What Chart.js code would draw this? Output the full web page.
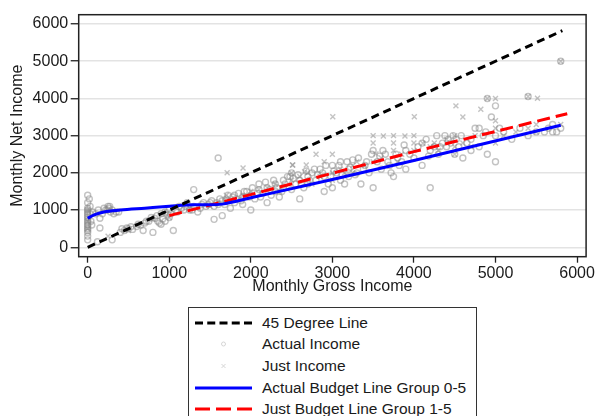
<!DOCTYPE html>
<html>
<head>
<meta charset="utf-8">
<script src="https://cdn.jsdelivr.net/npm/chart.js@4/dist/chart.umd.min.js"></script>
<style>
  html, body { margin: 0; padding: 0; background: #fff; }
  #wrap { position: relative; width: 596px; height: 416px; overflow: hidden; font-family: 'Liberation Sans', Arial, sans-serif; }
  #plot { position: absolute; left: 0; top: 0; width: 596px; height: 296px; }
  #legend { position: absolute; left: 188px; top: 307px; width: 289px; height: 130px; border: 1px solid #333; box-sizing: border-box; }
  .row { position: absolute; left: 0; height: 20px; width: 100%; }
  .row svg { position: absolute; left: 6px; top: 0; }
  .row span { position: absolute; left: 73px; top: 1px; font-size: 15.5px; line-height: 18px; color: #1a1a1a; white-space: nowrap; }
</style>
</head>
<body>
<div id="wrap">
  <div id="plot"><canvas id="c"></canvas></div>
  <div id="legend"></div>
</div>
<script>
// axis ticks
const xTicks = [0, 1000, 2000, 3000, 4000, 5000, 6000];
const yTicks = [0, 1000, 2000, 3000, 4000, 5000, 6000];

// 45 degree reference line
const degGross = [0, 5820];
const degNet = [0, 5820];

// actual budget line, group 0-5
const actLineGross = [0, 80, 200, 400, 700, 1000, 1300, 1500, 1650, 2000, 3000, 4000, 5800];
const actLineNet = [780, 870, 950, 1000, 1050, 1100, 1140, 1140, 1160, 1330, 1820, 2330, 3280];

// just budget line, group 1-5 (red dashes)
const justLineGross = [1000, 2550, 4000, 5880];
const justLineNet = [850, 1730, 2570, 3590];

// actual income observations (circles)
const actualGross = [
  0, 0, 0, 0, 0, 0, 0, 0, 0, 0, 0, 0, 0, 0, 0, 0, 0, 0,
  20, 30, 30, 40, 50,
  60, 100, 150, 150, 120, 180, 220, 250, 260, 280, 300, 320, 350,
  130, 200, 240, 270, 300, 380, 420, 480, 530, 620, 680, 720, 780,
  400, 450, 500, 550, 600, 650, 700, 750, 800, 820, 850, 900, 900, 950, 950,
  860, 880, 920, 980, 1020, 1120, 1180, 1220, 1280, 1380, 1420, 1480,
  1000, 1000, 1050, 1080, 1100, 1150, 1200, 1250, 1300, 1300, 1350, 1400, 1450,
  1500, 1550, 1550, 1600, 1600, 1650, 1650, 1700, 1700, 1750, 1800, 1800, 1850,
  1520, 1580, 1620, 1680, 1720, 1780, 1820, 1880, 1920, 1980,
  1900, 1900, 1950, 2000, 2000, 2050, 2100, 2100, 2150, 2200, 2200, 2250, 2300,
  2020, 2080, 2120, 2180, 2240, 2280, 2320, 2380, 2420, 2480,
  2300, 2350, 2400, 2400, 2450, 2500, 2500, 2550, 2600, 2600, 2650, 2700, 2700,
  2520, 2580, 2620, 2680, 2720, 2780, 2820, 2880, 2920, 2980,
  2750, 2800, 2850, 2900, 2900, 2950, 3000, 3000, 3050, 3100, 3100, 3150, 3200,
  3020, 3080, 3120, 3180, 3220, 3280, 3320, 3380, 3420, 3480,
  3200, 3250, 3300, 3350, 3400, 3450, 3500, 3500, 3550, 3600, 3650, 3700, 3750,
  3580, 3620, 3680, 3720, 3780, 3820, 3880, 3950, 4050, 4150, 4180,
  3800, 3850, 3900, 3900, 4000, 4100, 4100, 4200, 4200, 4250, 4300, 4350, 4400,
  4280, 4320, 4380, 4420, 4480, 4520, 4580, 4700, 4750, 4880, 4950,
  4450, 4500, 4550, 4600, 4650, 4700, 4800, 4800, 4850, 4900, 4900, 5000, 5000,
  5000, 5050, 5200, 5400, 5400, 5600, 5700, 5750, 5800, 5800,
  5100, 5300, 5500, 5650, 5700
];
const actualNet = [
  1400, 1200, 1050, 1000, 950, 900, 850, 800, 750, 700, 650, 600, 550, 500, 450, 400, 300, 200,
  1300, 1100, 900, 700, 600,
  950, 900, 780, 520, 150, 900, 1000, 1100, 1050, 950, 200, 900, 950,
  1000, 1050, 1000, 1100, 1000, 950, 500, 520, 550, 620, 450, 700, 800,
  400, 450, 500, 480, 560, 600, 650, 700, 400, 780, 850, 620, 900, 700, 950,
  700, 650, 760, 880, 900, 1100, 1000, 1200, 1000, 1050, 1200, 1150,
  800, 1000, 450, 1000, 950, 1050, 1100, 1000, 1550, 1100, 950, 1150, 1100,
  1200, 750, 1100, 2400, 1150, 1250, 850, 1250, 1300, 1050, 1400, 1200, 1450,
  1250, 1200, 1300, 1150, 1400, 1350, 1300, 1250, 1500, 1350,
  1350, 1150, 1500, 1000, 1400, 1300, 1550, 1700, 1450, 1600, 1200, 1400, 1700,
  1600, 1450, 1350, 1750, 1550, 1800, 1600, 1500, 1700, 1900,
  1500, 1350, 1600, 1800, 1900, 1550, 2000, 1700, 1800, 1300, 1600, 1900, 1700,
  1850, 1950, 1700, 2050, 1800, 2100, 1950, 2000, 2200, 1900,
  2000, 1800, 2100, 1900, 1500, 1700, 2200, 1600, 2000, 2300, 1800, 1700, 2100,
  2050, 2200, 1950, 2300, 2150, 1950, 2400, 2100, 2300, 2500,
  1900, 2350, 2000, 1700, 2200, 2000, 2600, 1600, 2300, 2100, 2500, 2200, 1900,
  2450, 2600, 2300, 2000, 2500, 2200, 2750, 2500, 2700, 2900, 2450,
  2400, 2300, 2600, 2100, 2400, 2200, 2800, 2600, 1600, 2700, 2500, 2800, 2700,
  3000, 2700, 3000, 2900, 3000, 2900, 3000, 2900, 3200, 3100, 3500,
  2800, 2500, 2700, 2400, 2800, 2600, 3200, 2700, 3000, 4000, 2500, 3000, 3800,
  2300, 3200, 2900, 4050, 3000, 3100, 3100, 3100, 5000, 3200,
  3100, 3200, 3100, 3200, 3300
];

// just income observations (crosses)
const justGross = [
  0, 0, 0, 250, 500, 800, 1000, 1250, 1500, 1710, 1800, 1905, 2000, 2200,
  2500, 2500, 2510, 2515, 2660, 2680, 2750, 2800, 3000, 3000, 3000, 3005,
  3250, 3250, 3500, 3500, 3500, 3535, 3625, 3750, 3750, 3750, 3890, 4000,
  4000, 4000, 4005, 4110, 4250, 4500, 4500, 4500, 4515, 4600, 4600, 4820,
  4900, 5000, 5000, 5000, 5000, 5250, 5400, 5500, 5500, 5515, 5800, 5800,
  2300, 2350, 2600, 2700, 2850, 2900, 3100, 3150, 3300, 3400, 3600, 3800,
  3850, 4200, 4300, 4400, 4700, 4750, 5100, 5400, 1600, 1700, 1900, 2100
];
const justNet = [
  1000, 700, 500, 300, 450, 750, 800, 1050, 1100, 2005, 1300, 2130, 1500, 1600,
  2000, 1800, 2210, 2210, 2030, 2210, 1700, 2500, 2500, 2000, 1800, 3510,
  2200, 2000, 3000, 2800, 2300, 2510, 2990, 3000, 2800, 2600, 2990, 3000,
  2800, 2600, 3510, 2795, 2800, 3000, 2700, 2500, 3800, 3500, 2800, 3710,
  4000, 3400, 3200, 2800, 4000, 3100, 4050, 3300, 3100, 4005, 5000, 3300,
  1700, 1500, 1900, 2000, 1900, 2300, 2100, 2000, 2300, 2200, 2400, 2300,
  2500, 2700, 2600, 2900, 2700, 3000, 3000, 3200, 1200, 1400, 1400, 1550
];

const pts = (xs, ys) => xs.map((x, i) => ({ x, y: ys[i] }));

// frame around the plot region, like Stata's box
const framePlugin = {
  id: 'frame',
  afterDraw(chart) {
    const { ctx, chartArea: a } = chart;
    ctx.save();
    ctx.strokeStyle = '#222';
    ctx.lineWidth = 1.5;
    ctx.strokeRect(a.left, a.top, a.right - a.left, a.bottom - a.top);
    ctx.restore();
  },
};

const font = { family: "'Liberation Sans', Arial, sans-serif", size: 16 };

new Chart(document.getElementById('c'), {
  type: 'scatter',
  data: {
    datasets: [
      {
        label: '45 Degree Line',
        type: 'line',
        data: pts(degGross, degNet),
        borderColor: '#000',
        borderWidth: 3,
        borderDash: [8, 5],
        pointRadius: 0,
        showLine: true,
        order: 0,
      },
      {
        label: 'Actual Budget Line Group 0-5',
        type: 'line',
        data: pts(actLineGross, actLineNet),
        borderColor: '#0000ff',
        borderWidth: 3,
        pointRadius: 0,
        cubicInterpolationMode: 'monotone',
        showLine: true,
        order: 0,
      },
      {
        label: 'Just Budget Line Group 1-5',
        type: 'line',
        data: pts(justLineGross, justLineNet),
        borderColor: '#ff0000',
        borderWidth: 3,
        borderDash: [13, 6],
        pointRadius: 0,
        showLine: true,
        order: 0,
      },
      {
        label: 'Actual Income',
        data: pts(actualGross, actualNet),
        pointStyle: 'circle',
        pointRadius: 3,
        borderColor: 'rgba(135,135,135,0.5)',
        backgroundColor: 'rgba(0,0,0,0)',
        borderWidth: 1.4,
        order: 2,
      },
      {
        label: 'Just Income',
        data: pts(justGross, justNet),
        pointStyle: 'crossRot',
        pointRadius: 3.5,
        borderColor: 'rgba(135,135,135,0.5)',
        borderWidth: 1.4,
        order: 1,
      },
    ],
  },
  options: {
    responsive: true,
    maintainAspectRatio: false,
    animation: false,
    events: [],
    layout: { padding: { left: 0, top: 14.7, right: 9, bottom: 0 } },
    plugins: { legend: { display: false }, tooltip: { enabled: false } },
    scales: {
      x: {
        type: 'linear',
        min: -110,
        max: 6111,
        afterBuildTicks: s => { s.ticks = xTicks.map(v => ({ value: v })); },
        afterFit: s => { s.height = 296 - 256.7; },
        ticks: { color: '#1a1a1a', font, padding: 1, maxRotation: 0, callback: v => String(v) },
        grid: { drawOnChartArea: false, tickColor: '#222', tickLength: 6, tickWidth: 1.3 },
        border: { display: false },
        title: { display: true, text: 'Monthly Gross Income', color: '#1a1a1a', font, padding: 0 },
      },
      y: {
        type: 'linear',
        min: -253,
        max: 6250,
        afterBuildTicks: s => { s.ticks = yTicks.map(v => ({ value: v })); },
        afterFit: s => { s.width = 78.7; },
        ticks: { color: '#1a1a1a', font, padding: 2.5, callback: v => String(v) },
        grid: { color: '#e3e3e3', lineWidth: 1.5, tickColor: '#222', tickLength: 8, tickWidth: 1.3 },
        border: { display: false },
        title: { display: true, text: 'Monthly Net Income', color: '#1a1a1a', font, padding: { top: 7.7, bottom: 0 } },
      },
    },
  },
  plugins: [framePlugin],
});

// legend, stacked in a box under the plot
const legendItems = [
  { text: '45 Degree Line', svg: '<line x1="0" y1="10" x2="57" y2="10" stroke="#000" stroke-width="3" stroke-dasharray="8 4.25"/>' },
  { text: 'Actual Income', svg: '<circle cx="28.5" cy="10" r="2" fill="none" stroke="#d6d6d6" stroke-width="1"/>' },
  { text: 'Just Income', svg: '<path d="M26.5 8 L30.5 12 M30.5 8 L26.5 12" stroke="#d6d6d6" stroke-width="1"/>' },
  { text: 'Actual Budget Line Group 0-5', svg: '<line x1="0" y1="10" x2="57" y2="10" stroke="#0000ff" stroke-width="3"/>' },
  { text: 'Just Budget Line Group 1-5', svg: '<line x1="0" y1="10" x2="57" y2="10" stroke="#ff0000" stroke-width="3" stroke-dasharray="15 6"/>' },
];
const rowTops = [5, 26.3, 48, 69.7, 91.3];
const legend = document.getElementById('legend');
legendItems.forEach((it, i) => {
  const row = document.createElement('div');
  row.className = 'row';
  row.style.top = rowTops[i] + 'px';
  row.innerHTML = '<svg width="57" height="20">' + it.svg + '</svg><span>' + it.text + '</span>';
  legend.appendChild(row);
});
</script>
</body>
</html>
